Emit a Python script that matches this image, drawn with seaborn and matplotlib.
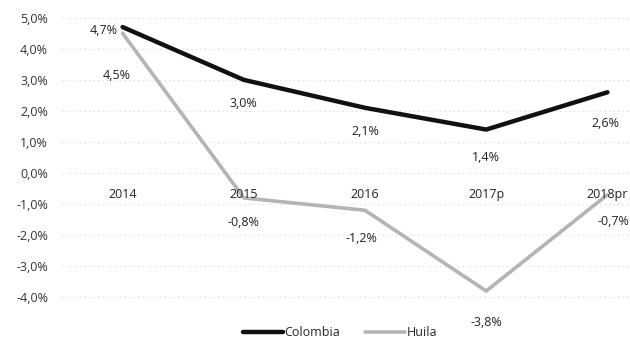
import matplotlib
matplotlib.use("Agg")
import matplotlib.pyplot as plt
import seaborn as sns
import pandas as pd

years = ["2014", "2015", "2016", "2017p", "2018pr"]
colombia = [4.7, 3.0, 2.1, 1.4, 2.6]
huila = [4.5, -0.8, -1.2, -3.8, -0.7]
yticks = [5, 4, 3, 2, 1, 0, -1, -2, -3, -4]

sns.set_style("white")
plt.rcParams['font.family'] = ['Open Sans', 'DejaVu Sans']

df = pd.DataFrame({
    "x": list(range(len(years))) * 2,
    "v": colombia + huila,
    "serie": ["Colombia"] * len(years) + ["Huila"] * len(years),
})

fig = plt.figure(figsize=(6.30, 3.39), dpi=100)
left = 62 / 630
right = 668 / 630
ax = fig.add_axes([left, (339 - 305) / 339, right - left, (305 - 10) / 339])

sns.lineplot(data=df, x="x", y="v", hue="serie", palette={"Colombia": "#111111", "Huila": "#b4b4b4"},
             ax=ax, legend=False, sort=False)
lines = ax.get_lines()
lines[0].set_linewidth(3.2)
lines[1].set_linewidth(2.6)

ax.set_xlim(-0.5, 4.5)
ax.set_ylim(-4.25, 5.25)
ax.set_yticks(yticks)
ax.set_yticklabels([f"{t:.1f}%".replace(".", ",") for t in yticks], fontsize=9, color="#333333")
ax.set_xticks([])
ax.tick_params(axis="y", length=0, pad=10)
for s in ax.spines.values():
    s.set_visible(False)
ax.grid(axis="y", color="#d4d4d4", linestyle=(0, (1, 3)), linewidth=0.8)
ax.set_xlabel("")
ax.set_ylabel("")

fmt = lambda v: f"{v:.1f}%".replace(".", ",")
# category labels near zero line
for i, y in enumerate(years):
    ax.text(i, -0.7, y, ha="center", va="center", fontsize=9, color="#222222")

col_off = [(-0.16, -0.1), (0, -0.75), (0, -0.75), (0, -0.9), (-0.02, -1.0)]
for i, v in enumerate(colombia):
    dx, dy = col_off[i]
    ax.text(i + dx, v + dy, fmt(v), ha="center", va="center", fontsize=9, color="#222222")

hui_off = [(-0.05, -1.35), (0.0, -0.8), (-0.03, -0.9), (0, -1.0), (0.05, -0.85)]
for i, v in enumerate(huila):
    dx, dy = hui_off[i]
    ax.text(i + dx, v + dy, fmt(v), ha="center", va="center", fontsize=9, color="#222222")

from matplotlib.lines import Line2D
handles = [Line2D([0], [0], color="#111111", lw=3.2), Line2D([0], [0], color="#b4b4b4", lw=2.6)]
fig.legend(handles, ["Colombia", "Huila"], loc="center", bbox_to_anchor=(340 / 630, 1 - 333 / 339),
           ncol=2, frameon=False, fontsize=9, handlelength=3.2, handletextpad=0.1, columnspacing=2.0)

fig.savefig("out.png", dpi=100)
